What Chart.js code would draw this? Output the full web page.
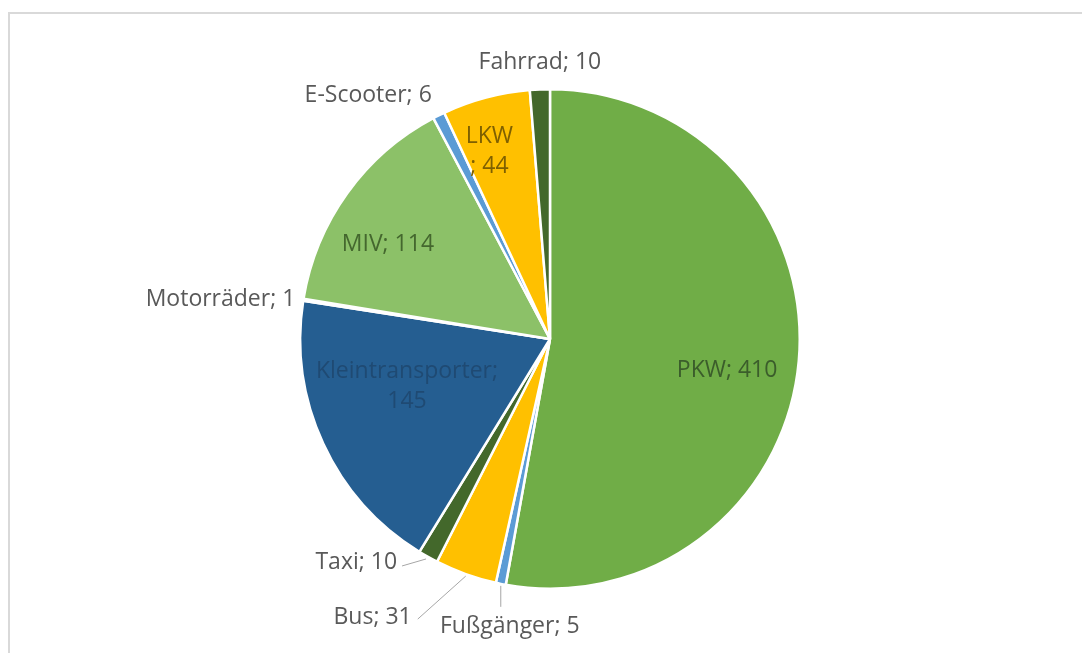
<!DOCTYPE html>
<html lang="de">
<head>
<meta charset="utf-8">
<title>Verkehrsmittel</title>
<script src="https://cdn.jsdelivr.net/npm/chart.js@4.4.1/dist/chart.umd.min.js"></script>
<style>
  html, body { margin: 0; padding: 0; background: #fff; }
  body { width: 1082px; height: 653px; position: relative; overflow: hidden; }
  .frame {
    position: absolute; left: 8px; top: 12px; right: -4px; bottom: -4px;
    border-top: 2px solid #d9d9d9; border-left: 2px solid #d9d9d9;
  }
  #wrap { position: absolute; left: 0; top: 0; width: 1082px; height: 653px; }
</style>
</head>
<body>
<div class="frame"></div>
<div id="wrap"><canvas id="pie"></canvas></div>
<script>
/* Data, clockwise from 12 o'clock */
const categories = ['PKW', 'Fußgänger', 'Bus', 'Taxi', 'Kleintransporter',
                    'Motorräder', 'MIV', 'E-Scooter', 'LKW', 'Fahrrad'];
const counts     = [410, 5, 31, 10, 145, 1, 114, 6, 44, 10];

const sliceColors = ['#70ad47', '#5b9bd5', '#ffc000', '#43682b', '#255e91',
                     '#dde6f2', '#8cc168', '#5b9bd5', '#ffc000', '#43682b'];

// label placement: inside = radial factor, outside = offset from slice edge
const labelPlace = [
  { r: 0.72, dx: -2,  dy: 15, color: '#3b5d2b' },
  { r: 1, dx: 9,   dy: 43, align: 'center', leader: [0, 2, 0, 23] },
  { r: 1, dx: -54, dy: 43, align: 'right',  leader: [0, 2, -48, 45] },
  { r: 1, dx: -31, dy: 5,  align: 'right',  leader: [-2, 2, -26, 9] },
  { r: 0.6, dx: -7, dy: -15, color: '#1f4a73', lines: ['Kleintransporter;', '145'] },
  { r: 1, dx: -8,  dy: 0,  align: 'right' },
  { r: 0.75, dx: -10, dy: 15, color: '#44672e' },
  { r: 1, dx: -7,  dy: -20, align: 'right' },
  { r: 0.79, dx: -10, dy: 3, color: '#7f6000', lines: ['LKW', '; 44'] },
  { r: 1, dx: 0,   dy: -27, align: 'center' },
];

const FONT = '23px "Open Sans", "DejaVu Sans", sans-serif';
const OUTSIDE_COLOR = '#595959';

// draws the data labels from the arc elements the library laid out
const pieLabels = {
  id: 'pieLabels',
  afterDatasetsDraw(chart) {
    const ctx  = chart.ctx;
    const arcs = chart.getDatasetMeta(0).data;
    ctx.save();
    ctx.font = FONT;
    ctx.textBaseline = 'middle';
    arcs.forEach((arc, i) => {
      const p   = labelPlace[i];
      const { x, y, startAngle, endAngle, outerRadius } = arc.getProps(
        ['x', 'y', 'startAngle', 'endAngle', 'outerRadius'], true);
      const mid = (startAngle + endAngle) / 2;
      const px  = x + Math.cos(mid) * outerRadius * p.r;
      const py  = y + Math.sin(mid) * outerRadius * p.r;
      const lines = p.lines ?? [categories[i] + '; ' + counts[i]];

      if (p.leader) {
        const [x1, y1, x2, y2] = p.leader;
        ctx.beginPath();
        ctx.moveTo(px + x1, py + y1);
        ctx.lineTo(px + x2, py + y2);
        ctx.strokeStyle = '#a6a6a6';
        ctx.lineWidth = 1;
        ctx.stroke();
      }

      ctx.fillStyle = p.color ?? OUTSIDE_COLOR;
      ctx.textAlign = p.align ?? 'center';
      const lh = 30;
      lines.forEach((t, k) => {
        const ly = py + p.dy + (k - (lines.length - 1) / 2) * lh;
        ctx.fillText(t, px + p.dx, ly);
      });
    });
    ctx.restore();
  },
};

new Chart(document.getElementById('pie'), {
  type: 'pie',
  data: {
    labels: categories,
    datasets: [{
      data: counts,
      backgroundColor: sliceColors,
      borderColor: '#ffffff',
      borderWidth: 2.5,
    }],
  },
  options: {
    responsive: true,
    maintainAspectRatio: false,
    animation: false,
    layout: { padding: { left: 299, right: 281, top: 88, bottom: 63 } },
    plugins: {
      legend: { display: false },
      tooltip: { enabled: false },
    },
  },
  plugins: [pieLabels],
});
</script>
</body>
</html>
